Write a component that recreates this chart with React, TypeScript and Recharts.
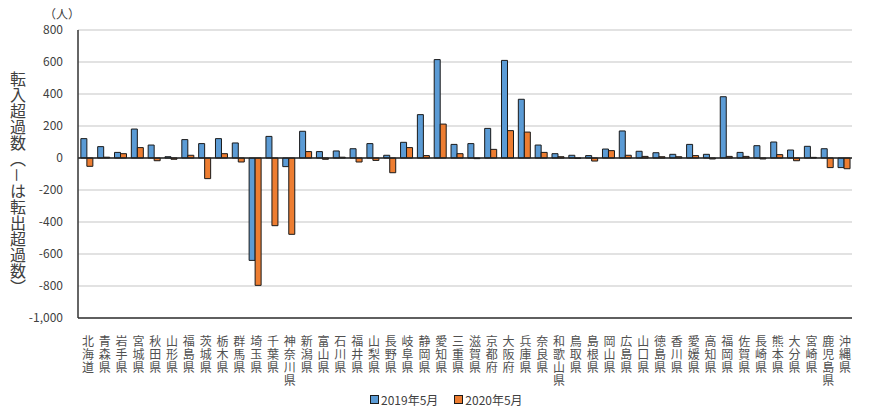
import { BarChart, Bar, XAxis, YAxis, CartesianGrid, ReferenceLine } from "recharts";

const prefectures = [
  "北海道", "青森県", "岩手県", "宮城県", "秋田県", "山形県", "福島県", "茨城県", "栃木県", "群馬県",
  "埼玉県", "千葉県", "神奈川県", "新潟県", "富山県", "石川県", "福井県", "山梨県", "長野県", "岐阜県",
  "静岡県", "愛知県", "三重県", "滋賀県", "京都府", "大阪府", "兵庫県", "奈良県", "和歌山県", "鳥取県",
  "島根県", "岡山県", "広島県", "山口県", "徳島県", "香川県", "愛媛県", "高知県", "福岡県", "佐賀県",
  "長崎県", "熊本県", "大分県", "宮崎県", "鹿児島県", "沖縄県",
];

const may2019 = [
  121, 71, 35, 181, 81, 8, 115, 90, 121, 94,
  -640, 135, -54, 167, 40, 44, 58, 90, 17, 98,
  271, 615, 85, 90, 185, 610, 367, 81, 27, 17,
  15, 56, 169, 42, 33, 23, 85, 23, 383, 35,
  77, 100, 50, 73, 58, -60,
];

const may2020 = [
  -52, 5, 27, 65, -17, -8, 17, -129, 27, -25,
  -796, -423, -477, 40, -8, 5, -25, -15, -92, 65,
  15, 212, 27, -4, 54, 171, 162, 35, 8, -2,
  -19, 46, 17, 10, 8, 8, 15, -6, 10, 10,
  -6, 21, -17, 4, -60, -67,
];

const yTicks = [-1000, -800, -600, -400, -200, 0, 200, 400, 600, 800];

const seriesNames = ["2019年5月", "2020年5月"];
const colors = ["#5B9BD5", "#ED7D31"];

const data = prefectures.map((name, i) => ({ name, a: may2019[i], b: may2020[i] }));

const font = "'Noto Sans CJK JP', 'Noto Sans', sans-serif";
const textColor = "#404040";

// category labels run top-to-bottom, like the stacked text in the Excel original
function VerticalTick({ x, y, payload }: any) {
  return (
    <text
      x={x + 1.5}
      y={y + 9}
      fontSize={12}
      fill="#505050"
      fontFamily={font}
      letterSpacing={1.3}
      style={{ writingMode: "vertical-rl" }}
    >
      {payload.value}
    </text>
  );
}

export default function App() {
  return (
    <div style={{ position: "absolute", left: 0, top: 0, width: 870, height: 419, background: "#fff", fontFamily: font }}>
      <BarChart
        width={870}
        height={419}
        data={data}
        margin={{ top: 30, right: 18, bottom: 0, left: 0 }}
        barCategoryGap="17%"
        barGap={0}
      >
        <CartesianGrid vertical={false} stroke="#d9d9d9" strokeWidth={1.5} />
        <XAxis
          dataKey="name"
          interval={0}
          height={101}
          tickLine={false}
          axisLine={{ stroke: "#333", strokeWidth: 1.5 }}
          tick={<VerticalTick />}
        />
        <XAxis
          xAxisId="top"
          orientation="top"
          dataKey="name"
          height={0}
          tick={false}
          tickLine={false}
          axisLine={{ stroke: "#333", strokeWidth: 1.5 }}
        />
        <YAxis
          domain={[-1000, 800]}
          ticks={yTicks}
          width={78}
          tickSize={0}
          tickMargin={15}
          tickLine={false}
          axisLine={{ stroke: "#333", strokeWidth: 1.5 }}
          tickFormatter={(v: number) => v.toLocaleString("en-US")}
          tick={{ fontSize: 12, fill: textColor, fontFamily: font }}
        />
        <YAxis
          yAxisId="right"
          orientation="right"
          domain={[-1000, 800]}
          width={0}
          tick={false}
          tickLine={false}
          axisLine={{ stroke: "#333", strokeWidth: 1.5 }}
        />
        <ReferenceLine y={0} stroke="#222" strokeWidth={1.5} />
        <Bar dataKey="a" name={seriesNames[0]} fill={colors[0]} stroke="#1a1a1a" strokeWidth={1} isAnimationActive={false} />
        <Bar dataKey="b" name={seriesNames[1]} fill={colors[1]} stroke="#1a1a1a" strokeWidth={1} isAnimationActive={false} />
      </BarChart>

      <div style={{ position: "absolute", left: 44, top: 5, fontSize: 12, color: textColor }}>（人）</div>

      <div
        style={{
          position: "absolute",
          left: 9,
          top: 71,
          writingMode: "vertical-rl",
          fontSize: 16,
          lineHeight: "18px",
          color: textColor,
        }}
      >
        転入超過数（－は転出超過数）
      </div>

      <div
        style={{
          position: "absolute",
          top: 391,
          left: 370,
          display: "flex",
          alignItems: "center",
          fontSize: 12,
          color: textColor,
        }}
      >
        {seriesNames.map((n, i) => (
          <div key={n} style={{ display: "flex", alignItems: "center", marginRight: 16 }}>
            <span
              style={{
                display: "inline-block",
                width: 7,
                height: 7,
                background: colors[i],
                border: "1px solid #1a1a1a",
                marginRight: 2,
              }}
            />
            <span>{n}</span>
          </div>
        ))}
      </div>
    </div>
  );
}
